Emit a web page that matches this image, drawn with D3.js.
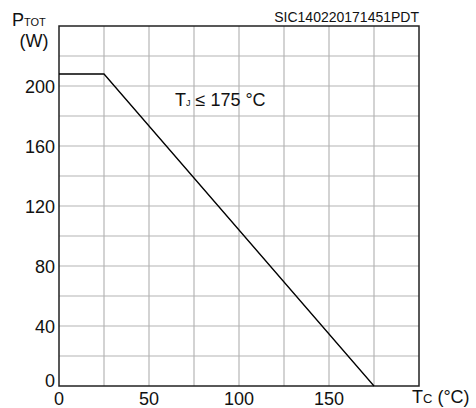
<!DOCTYPE html>
<html><head><meta charset="utf-8">
<script src="https://cdn.jsdelivr.net/npm/d3@7"></script>
<style>body{margin:0;background:#fff}svg{display:block;font-family:"Liberation Sans",Arial,sans-serif}</style>
</head><body>
<svg id="c" width="476" height="408"></svg>
<script>
// data
const tempC = [0, 25, 175];
const powerW = [208, 208, 0];
const xTickLabels = [0, 50, 100, 150];
const yTickLabels = [0, 40, 80, 120, 160, 200];
const xGrid = [25, 50, 75, 100, 125, 150, 175];
const yGrid = [20, 40, 60, 80, 100, 120, 140, 160, 180, 200, 220];
const docId = "SIC140220171451PDT";
const noteMain = "T", noteSub = "J", noteRest = " ≤ 175 °C";

const svg = d3.select("#c");
const L = 59, R = 419, T = 26, B = 386;
const x = d3.scaleLinear().domain([0, 200]).range([L, R]);
const y = d3.scaleLinear().domain([0, 240]).range([B, T]);

// grid
svg.append("g").selectAll("line").data(xGrid).join("line")
  .attr("x1", d => x(d)).attr("x2", d => x(d)).attr("y1", T).attr("y2", B)
  .attr("stroke", "#c4c4c4").attr("stroke-width", 1.5);
svg.append("g").selectAll("line").data(yGrid).join("line")
  .attr("y1", d => y(d)).attr("y2", d => y(d)).attr("x1", L).attr("x2", R)
  .attr("stroke", "#b4b4b4").attr("stroke-width", 1.2);

// frame
svg.append("rect").attr("x", L).attr("y", T).attr("width", R - L).attr("height", B - T)
  .attr("fill", "none").attr("stroke", "#222").attr("stroke-width", 1.5);

// curve
svg.append("path").datum(tempC.map((t, i) => [t, powerW[i]]))
  .attr("d", d3.line().x(d => x(d[0])).y(d => y(d[1])))
  .attr("fill", "none").attr("stroke", "#000").attr("stroke-width", 1.3);

// tick labels
svg.append("g").selectAll("text").data(xTickLabels).join("text")
  .attr("x", d => x(d)).attr("y", 405).attr("text-anchor", "middle")
  .attr("font-size", 18).attr("fill", "#111").text(d => d);
svg.append("g").selectAll("text").data(yTickLabels).join("text")
  .attr("x", 55).attr("y", d => d === 0 ? y(d) + 1 : y(d) + 7).attr("text-anchor", "end")
  .attr("font-size", 18).attr("fill", "#111").text(d => d);

// axis titles
const yt = svg.append("text").attr("x", 12).attr("y", 26).attr("font-size", 18).attr("fill", "#111");
yt.append("tspan").text("P");
yt.append("tspan").attr("font-size", 11).text("TOT");
svg.append("text").attr("x", 34).attr("y", 47).attr("text-anchor", "middle")
  .attr("font-size", 18).attr("fill", "#111").text("(W)");
const xt = svg.append("text").attr("x", 412).attr("y", 403).attr("font-size", 18).attr("fill", "#111");
xt.append("tspan").text("T");
xt.append("tspan").attr("font-size", 13).text("C");
xt.append("tspan").text(" (°C)");

// note
const nt = svg.append("text").attr("x", 175).attr("y", 106).attr("font-size", 18).attr("fill", "#111");
nt.append("tspan").text(noteMain);
nt.append("tspan").attr("font-size", 9).text(noteSub);
nt.append("tspan").text(noteRest);

// doc id
svg.append("text").attr("x", 419).attr("y", 22).attr("text-anchor", "end")
  .attr("font-size", 14).attr("fill", "#111").text(docId);
</script>
</body></html>
